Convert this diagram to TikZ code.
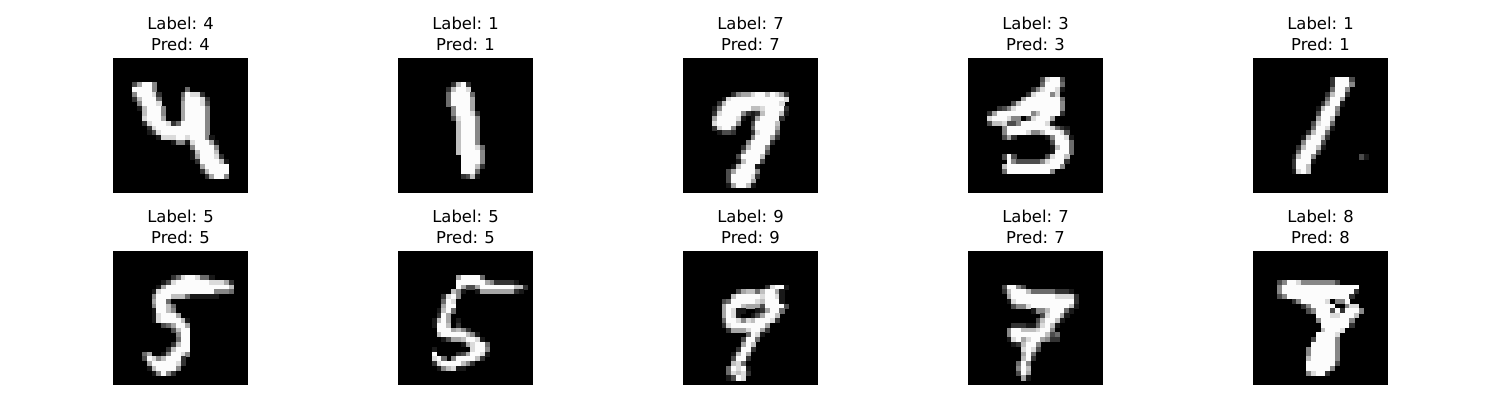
\documentclass[tikz,border=0pt]{standalone}
\usepackage{fontspec}
\setmainfont[WordSpace=0.85]{DejaVu Sans}
\definecolor{g1}{gray}{.1}\definecolor{g2}{gray}{.2}\definecolor{g3}{gray}{.3}
\definecolor{g4}{gray}{.42}\definecolor{g5}{gray}{.53}\definecolor{g6}{gray}{.65}
\definecolor{g7}{gray}{.75}\definecolor{g8}{gray}{.86}\definecolor{g9}{gray}{.99}
\newcount\cellcol
\def\cellscan#1{\ifx#1\relax\else\ifnum#1>0 \fill[g#1] (\the\cellcol,\rowi) rectangle ++(1.06,1.06);\fi\advance\cellcol by 1 \expandafter\cellscan\fi}
\tikzset{
  panelbox/.style={fill=black,draw=none,inner sep=0pt,outer sep=0pt,minimum width=135pt,anchor=north west},
  paneltitle/.style={align=center,anchor=south,inner sep=0pt,font=\fontsize{16.4}{20.4}\selectfont}
}
% #1 name, #2 x, #3 y, #4 height, #5 digit label, #6 rows
\newcommand\digitpanel[6]{%
  \node[panelbox,minimum height=#4pt] (#1) at (#2,#3) {};
  \node[paneltitle] (#1t) at ([yshift=7.4pt]#1.north) {Label: #5\\Pred: #5};
  \begin{scope}[shift={(#2pt,-#3pt)},x=4.8214pt,y=-#4pt/28]
    \foreach \rowi/\coli/\vals in {#6} {%
      \global\cellcol=\coli\relax
      \expandafter\cellscan\vals\relax
    }
  \end{scope}
}
\begin{document}
\begin{tikzpicture}[x=1pt,y=-1pt]
\fill[white] (0,0) rectangle (1500,400);
\useasboundingbox (0,0) rectangle (1500,400);
\digitpanel{a}{113}{58}{135}{4}{5/4/36995,6/4/999950000004,7/4/599982000049882,8/4/2799940000599982,9/5/599980000699983,10/5/179995000699995,11/6/79995000699995,12/6/89996000699995,13/6/28999824999995,14/7/2899999999995,15/7/1389999999995,16/9/188899899951,17/12/1551899961,18/16/599995,19/16/179997,20/16/1699982,21/17/2999971,22/18/699999,23/18/279999,24/19/26995}
\digitpanel{b}{398}{58}{135}{1}{5/11/2792,6/10/27998,7/10/499994,8/10/499996,9/10/499996,10/11/59996,11/11/599982,12/11/389995,13/12/79995,14/12/79995,15/12/79995,16/12/79995,17/12/79995,18/12/799984,19/12/799995,20/13/99995,21/13/99995,22/13/99972,23/13/9994,24/13/2371}
\digitpanel{c}{683}{58}{135}{7}{7/10/256689979862,8/8/18999999999998,9/7/27999999999998,10/6/1599999977899992,11/6/2899995212799971,12/6/699998101699992,13/6/89999500399997,14/6/28995000499996,15/7/1332000289994,16/14/599962,17/13/599992,18/12/279995,19/12/599993,20/11/399997,21/11/179993,22/10/179991,23/9/3699995,24/9/3999982,25/9/399996,26/9/169971}
\digitpanel{d}{968}{58}{135}{3}{4/15/38993,5/15/49994,6/13/2589981,7/12/2899958,8/11/699999994,9/9/37999999995,10/6/23589999999995,11/4/2699999995799992,12/4/89998550389996,13/4/37783359999981,14/7/59999999998421,15/7/59999855799983,16/7/362000000159981,17/17/39994,18/17/17994,19/17/19994,20/7/393000000389970,21/8/9533333589992,22/7/7999999999995,23/7/49999999995}
\digitpanel{e}{1253}{58}{135}{1}{4/16/29993,5/16/29995,6/16/4995,7/15/27992,8/15/4996,9/14/26991,10/13/17995,11/13/39994,12/13/6997,13/12/38994,14/12/49981,15/11/27994,16/10/179972,17/10/59993,18/9/279971,19/9/49993,20/8/1799500000000031,21/8/29991,22/8/2997,23/8/1897}
\digitpanel{f}{113}{251}{134}{5}{5/12/248998441,6/10/138999999988862,7/9/1699999999999997,8/8/18999999999995554,9/8/59997774111111,10/8/6994,11/8/59974,12/8/19975,13/8/189996,14/8/18999971,15/10/346996,16/12/3799,17/13/599,18/13/499,19/12/2799,20/11/27999,21/6/4600159985,22/6/398579992,23/7/69999982,24/7/1799995,25/8/15952}
\digitpanel{g}{398}{251}{134}{5}{5/12/699994,6/12/9999996522221,7/12/963369999999772,8/11/751001666666621,9/9/28950,10/9/4980,11/9/6990,12/8/1794,13/8/296,14/7/179601,15/7/199702,16/8/9996752,17/8/799999751,18/9/136679981,19/13/168994,20/7/100000008995,21/7/900002369981,22/7/89405999972,23/7/289999752,24/8/157811}
\digitpanel{h}{683}{251}{134}{9}{7/17/28991,8/11/3677479961,9/10/79999989981,10/8/3499999879991,11/8/69997666399993,12/8/6981100126994,13/8/698100136997,14/8/499858799982,15/8/2899999996,16/9/266689962,17/13/4981,18/12/3994,19/12/697,20/11/2992,21/10/1796,22/10/3992,23/10/784,24/9/49891,25/9/48782,26/9/1398}
\digitpanel{i}{968}{251}{134}{7}{7/7/39953,8/7/279997444442221,9/8/69999999998888 2,10/8/189999999999992,11/9/35589999999971,12/13/155799941,13/15/389961,14/14/379971,15/9/2221148971,16/8/5997778995,17/8/59999999734,18/8/18968996522,19/9/127995,20/11/8983,21/11/694,22/11/792,23/10/495,24/10/597,25/10/396,26/11/61}
\digitpanel{j}{1253}{251}{134}{8}{6/5/3599855555553,7/5/59999999999999999,8/5/59999999999999992,9/5/3599999999999992,10/8/259999980559,11/10/259999900588,12/11/359993929995,13/13/999889997,14/13/59999995,15/14/9999992,16/14/79998,17/13/99998,18/12/399995,19/12/999995,20/11/5999995,21/11/5999995,22/11/7999995,23/11/9999993,24/11/999995,25/11/58992}
\end{tikzpicture}
\end{document}
